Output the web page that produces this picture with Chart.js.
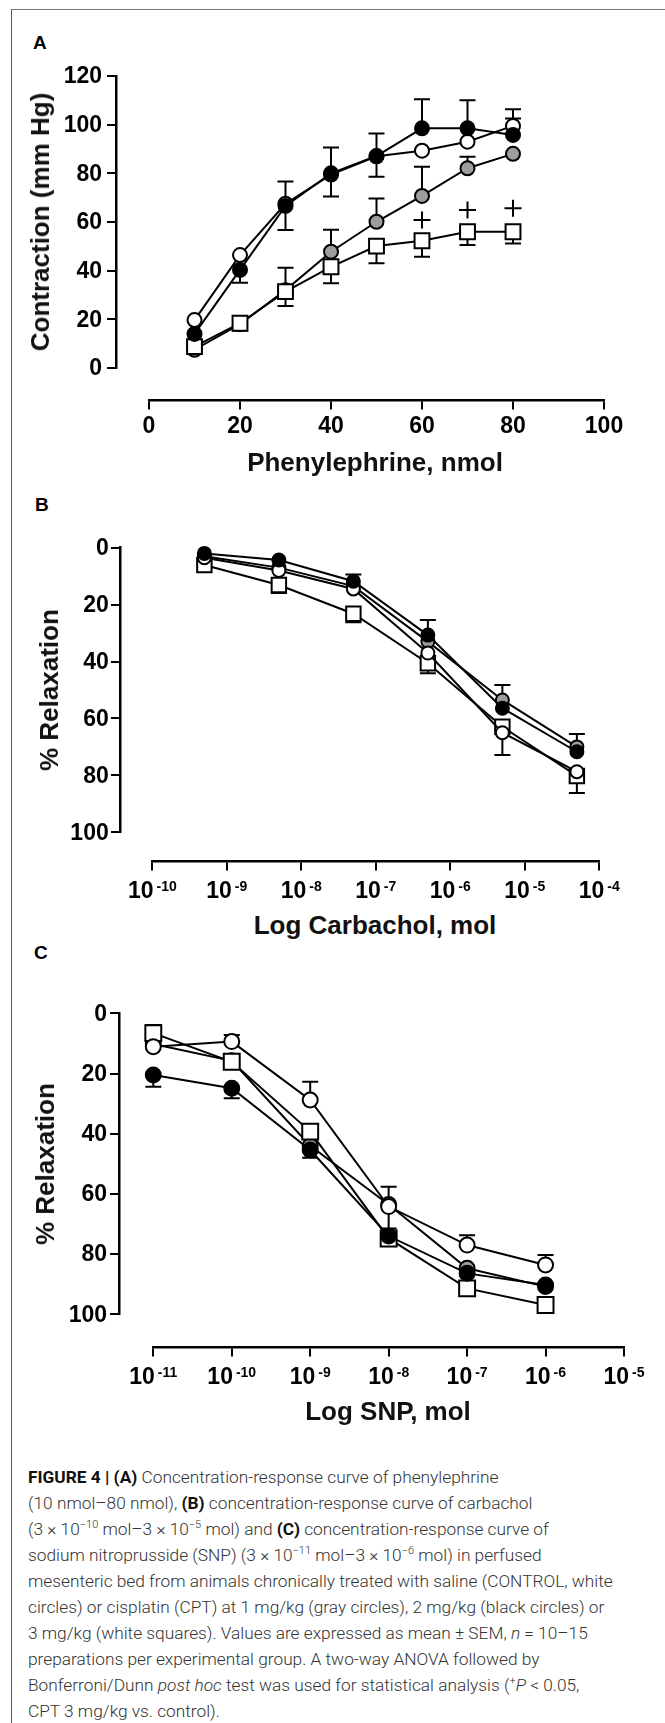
<!DOCTYPE html>
<html>
<head>
<meta charset="utf-8">
<script src="https://cdn.jsdelivr.net/npm/chart.js@4.4.1/dist/chart.umd.min.js"></script>
<style>
  html, body { margin: 0; padding: 0; background: #fff; }
  body { width: 665px; height: 1723px; position: relative; overflow: hidden; font-family: 'Liberation Sans', Arial, sans-serif; }
  .frame { position: absolute; left: 11px; top: 9px; width: 720px; height: 1800px; border-left: 1px solid #555; border-top: 1px solid #777; }
  .box { position: absolute; left: 0; width: 665px; }
  .letter { position: absolute; font: bold 19px 'Liberation Sans', Arial, sans-serif; line-height: 19px; color: #000; }
  .xt { position: absolute; font: bold 26px 'Liberation Sans', Arial, sans-serif; line-height: 26px; transform: translateX(-50%); white-space: nowrap; color: #111; }
  .yt { position: absolute; font: bold 26px 'Liberation Sans', Arial, sans-serif; line-height: 26px; transform: translate(-50%, -50%) rotate(-90deg); white-space: nowrap; color: #111; }
  .cap { position: absolute; left: 28px; font-family: Roboto, 'Liberation Sans', sans-serif; font-weight: 300; font-size: 17.3px; line-height: 25.9px; color: #333; white-space: nowrap; }
  .cap b { color: #111; font-weight: 700; }
  .cap sup { font-size: 11px; line-height: 0; vertical-align: 7px; }
</style>
</head>
<body>
<div class="frame"></div>

<div class="letter" style="left:33px;top:32.5px">A</div>
<div class="letter" style="left:35px;top:494.5px">B</div>
<div class="letter" style="left:34px;top:942.5px">C</div>

<div class="box" style="top:40px;height:410px"><canvas id="chartA"></canvas></div>
<div class="box" style="top:515px;height:390px"><canvas id="chartB"></canvas></div>
<div class="box" style="top:980px;height:420px"><canvas id="chartC"></canvas></div>

<div class="yt" style="left:40px;top:222px">Contraction (mm Hg)</div>
<div class="xt" style="left:375px;top:449.3px">Phenylephrine, nmol</div>
<div class="yt" style="left:49px;top:690px">% Relaxation</div>
<div class="xt" style="left:375px;top:911.6px">Log Carbachol, mol</div>
<div class="yt" style="left:44.5px;top:1164px">% Relaxation</div>
<div class="xt" style="left:388px;top:1398.3px">Log SNP, mol</div>

<div class="cap" style="top:1465.4px"><b>FIGURE 4 |</b> <b>(A)</b> Concentration-response curve of phenylephrine</div>
<div class="cap" style="top:1491.3px">(10 nmol–80 nmol), <b>(B)</b> concentration-response curve of carbachol</div>
<div class="cap" style="top:1517.2px">(3 × 10<sup>−10</sup> mol–3 × 10<sup>−5</sup> mol) and <b>(C)</b> concentration-response curve of</div>
<div class="cap" style="top:1543.1px">sodium nitroprusside (SNP) (3 × 10<sup>−11</sup> mol–3 × 10<sup>−6</sup> mol) in perfused</div>
<div class="cap" style="top:1569px">mesenteric bed from animals chronically treated with saline (CONTROL, white</div>
<div class="cap" style="top:1594.9px">circles) or cisplatin (CPT) at 1 mg/kg (gray circles), 2 mg/kg (black circles) or</div>
<div class="cap" style="top:1620.8px">3 mg/kg (white squares). Values are expressed as mean ± SEM, <i>n</i> = 10–15</div>
<div class="cap" style="top:1646.7px">preparations per experimental group. A two-way ANOVA followed by</div>
<div class="cap" style="top:1672.6px">Bonferroni/Dunn <i>post hoc</i> test was used for statistical analysis (<sup>+</sup><i>P</i> &lt; 0.05,</div>
<div class="cap" style="top:1698.5px">CPT 3 mg/kg vs. control).</div>

<script>
// Figure 4 — cisplatin / mesenteric bed curves, three panels

Chart.defaults.font.family = "'Liberation Sans', Arial, sans-serif";
Chart.defaults.color = '#000';

// ── Panel A: phenylephrine (contraction, mm Hg) ─────────────────
const phenylDose = [10, 20, 30, 40, 50, 60, 70, 80];
const aControl = [19.7, 46.4, 67.5, 79.5, 87, 89.3, 93, 99.5];
const aCpt1    = [7.5, 18, 32, 47.8, 60.1, 70.7, 82.1, 88];
const aCpt2    = [14, 40.3, 66.6, 80, 87.1, 98.5, 98.5, 95.8];
const aCpt3    = [8.8, 18.4, 31.4, 41.6, 50.1, 52.3, 56, 56];
// SEM drawn above (+) / below (-) the mean
const aControlPlus = [0, 0, 0, 0, 0, 0, 0, 3];
const aCpt1Plus    = [0, 0, 9.2, 9, 9.6, 12, 4.7, 0];
const aCpt2Plus    = [0, 0, 10, 10.6, 9.3, 11.9, 11.5, 10.5];
const aCpt2Minus   = [0, 5.3, 9.9, 9.5, 8.5, 0, 0, 0];
const aCpt3Minus   = [0, 3, 5.9, 6.8, 7.1, 6.6, 5.5, 4.8];
const plusDose = [60, 70, 80];
const plusMark = [60.8, 64.9, 65.6];
const aTicksX = [0, 20, 40, 60, 80, 100];
const aTicksY = [0, 20, 40, 60, 80, 100, 120];

// ── Panel B: carbachol (% relaxation) ───────────────────────────
const carbDose = [5e-10, 5e-9, 5e-8, 5e-7, 5e-6, 5e-5];
const bControl = [3.5, 8, 14.5, 37, 65, 78.7];
const bCpt1    = [3, 7, 13.5, 33, 53.5, 70];
const bCpt2    = [2, 4.3, 11.8, 30.7, 56.4, 71.7];
const bCpt3    = [6.1, 13.1, 23.2, 40.6, 62.9, 80.2];
const bControlPlus = [0, 0, 0, 0, 7.8, 0];
const bCpt1Minus   = [0, 0, 0, 0, 5.3, 4.5];
const bCpt2Minus   = [0, 0, 2.4, 5.3, 0, 0];
const bCpt3Plus    = [0, 2.8, 3, 3.5, 0, 6];
const carbExps = [-10, -9, -8, -7, -6, -5, -4];

// ── Panel C: sodium nitroprusside (% relaxation) ────────────────
const snpDose = [1e-11, 1e-10, 1e-9, 1e-8, 1e-7, 1e-6];
const cControl = [11.1, 9.4, 28.8, 64.2, 77, 83.6];
const cCpt1    = [10.2, 15.8, 44, 63.5, 84.7, 90.8];
const cCpt2    = [20.5, 24.9, 45.4, 74, 86.4, 90.3];
const cCpt3    = [6.6, 16.1, 39.3, 74.8, 91.4, 96.9];
const cControlMinus = [0, 2.2, 6.1, 6.6, 3.3, 3.3];
const cCpt1Plus     = [0, 0, 0, 8, 0, 0];
const cCpt2Plus     = [3.9, 3.3, 2.6, 0, 0, 0];
const cCpt3Minus    = [2.7, 0, 0, 0, 0, 0];
const cCpt3Plus     = [0, 0, 0, 1.5, 1.5, 0];
const snpExps = [-11, -10, -9, -8, -7, -6, -5];
const relaxTicks = [0, 20, 40, 60, 80, 100];

const ZERO = n => new Array(n).fill(0);
const BOLD23 = "bold 23px 'Liberation Sans', Arial, sans-serif";
const BOLD14 = "bold 14px 'Liberation Sans', Arial, sans-serif";

// marker looks: white circle = control, gray = 1 mg/kg, black = 2 mg/kg, white square = 3 mg/kg
const LOOK = {
  control: { shape: 'circle', fill: '#ffffff', order: 1 },
  cpt1:    { shape: 'circle', fill: '#9d9d9d', order: 3 },
  cpt2:    { shape: 'circle', fill: '#000000', order: 0 },
  cpt3:    { shape: 'rect',   fill: '#ffffff', order: 2 }
};

function series(label, xs, ys, plus, minus, look, r) {
  return {
    label,
    data: xs.map((x, i) => ({ x, y: ys[i] })),
    errPlus: plus || ZERO(xs.length),
    errMinus: minus || ZERO(xs.length),
    showLine: true,
    borderColor: '#000',
    borderWidth: 2,
    pointStyle: look.shape,
    pointRadius: look.shape === 'rect' ? r * 1.5 : r,
    pointBackgroundColor: look.fill,
    pointBorderColor: '#000',
    pointBorderWidth: 2,
    order: look.order,
    clip: false
  };
}

// SEM whiskers with caps, drawn under the symbols
const errorBars = {
  id: 'errorBars',
  beforeDatasetsDraw(chart) {
    const { ctx, scales: { x, y } } = chart;
    ctx.save();
    ctx.strokeStyle = '#000';
    ctx.lineWidth = 2;
    chart.data.datasets.forEach(ds => {
      if (!ds.errPlus) return;
      ds.data.forEach((p, i) => {
        const px = x.getPixelForValue(p.x);
        const y0 = y.getPixelForValue(p.y);
        [ds.errPlus[i], -ds.errMinus[i]].forEach(e => {
          if (!e) return;
          const y1 = y.getPixelForValue(p.y + e);
          ctx.beginPath();
          ctx.moveTo(px, y0); ctx.lineTo(px, y1);
          ctx.moveTo(px - 8, y1); ctx.lineTo(px + 8, y1);
          ctx.stroke();
        });
      });
    });
    ctx.restore();
  }
};

// tick labels for the detached axes: y numbers left of the tick marks,
// and "10" with a raised exponent under each decade on log x axes
const axisLabels = {
  id: 'axisLabels',
  afterDraw(chart, args, opts) {
    const { ctx } = chart;
    const sx = chart.scales.x, sy = chart.scales.y;
    ctx.save();
    ctx.fillStyle = '#000';

    const axisX = sx.getPixelForValue(chart.options.scales.y.position.x);
    ctx.font = BOLD23;
    ctx.textAlign = 'right';
    ctx.textBaseline = 'middle';
    sy.ticks.forEach(t => {
      ctx.fillText(String(t.value), axisX - 8 - opts.yPad, sy.getPixelForValue(t.value) + 1);
    });

    if (opts.exps) {
      const base = sy.getPixelForValue(chart.options.scales.x.position.y) + 36;
      ctx.textAlign = 'left';
      ctx.textBaseline = 'alphabetic';
      opts.exps.forEach(e => {
        const px = sx.getPixelForValue(Math.pow(10, e));
        ctx.font = BOLD23;
        const w1 = ctx.measureText('10').width;
        ctx.font = BOLD14;
        const w2 = ctx.measureText(String(e)).width;
        const left = px - (w1 + 3 + w2) / 2;
        ctx.font = BOLD23;
        ctx.fillText('10', left, base);
        ctx.font = BOLD14;
        ctx.fillText(String(e), left + w1 + 3, base - 6.5);
      });
    }
    ctx.restore();
  }
};

const GRID = { display: true, drawOnChartArea: false, drawTicks: true, tickLength: 8, color: '#000', lineWidth: 2 };
const BORDER = { display: true, color: '#000', width: 2.5 };
const TICKFONT = { size: 23, weight: 'bold' };

function baseOptions(padding, scales, labels) {
  return {
    responsive: true,
    maintainAspectRatio: false,
    animation: false,
    layout: { padding },
    plugins: { legend: { display: false }, tooltip: { enabled: false }, axisLabels: labels },
    scales
  };
}

// ── Panel A ─────────────────────────────────────────────────────
new Chart(document.getElementById('chartA'), {
  type: 'scatter',
  data: {
    datasets: [
      series('CPT 2 mg/kg', phenylDose, aCpt2, aCpt2Plus, aCpt2Minus, LOOK.cpt2, 7),
      series('CONTROL', phenylDose, aControl, aControlPlus, null, LOOK.control, 7),
      series('CPT 1 mg/kg', phenylDose, aCpt1, aCpt1Plus, null, LOOK.cpt1, 7),
      series('CPT 3 mg/kg', phenylDose, aCpt3, null, aCpt3Minus, LOOK.cpt3, 7),
      {
        label: '+P < 0.05',
        data: plusDose.map((x, i) => ({ x, y: plusMark[i] })),
        showLine: false,
        pointStyle: 'cross',
        pointRadius: 8.5,
        pointBorderColor: '#000',
        pointBorderWidth: 2,
        order: 0,
        clip: false
      }
    ]
  },
  options: baseOptions({ left: 149, right: 61, top: 36, bottom: 82 }, {
    x: {
      type: 'linear', axis: 'x', min: 0, max: 100, position: { y: -13.15 },
      afterBuildTicks: s => { s.ticks = aTicksX.map(v => ({ value: v })); },
      ticks: { font: TICKFONT, padding: 5, maxRotation: 0, autoSkip: false },
      grid: GRID, border: BORDER
    },
    y: {
      type: 'linear', axis: 'y', min: 0, max: 120, position: { x: -7.25 },
      afterBuildTicks: s => { s.ticks = aTicksY.map(v => ({ value: v })); },
      ticks: { display: false },
      grid: GRID, border: BORDER
    }
  }, { yPad: 6 }),
  plugins: [errorBars, axisLabels]
});

// ── Panel B ─────────────────────────────────────────────────────
new Chart(document.getElementById('chartB'), {
  type: 'scatter',
  data: {
    datasets: [
      series('CPT 2 mg/kg', carbDose, bCpt2, null, bCpt2Minus, LOOK.cpt2, 6.5),
      series('CONTROL', carbDose, bControl, bControlPlus, null, LOOK.control, 6.5),
      series('CPT 1 mg/kg', carbDose, bCpt1, null, bCpt1Minus, LOOK.cpt1, 6.5),
      series('CPT 3 mg/kg', carbDose, bCpt3, bCpt3Plus, null, LOOK.cpt3, 6.8)
    ]
  },
  options: baseOptions({ left: 152.3, right: 65.7, top: 32.7, bottom: 72.7 }, {
    x: {
      type: 'logarithmic', axis: 'x', min: 1e-10, max: 1e-4, position: { y: 110.33 },
      afterBuildTicks: s => { s.ticks = carbExps.map(e => ({ value: Math.pow(10, e) })); },
      ticks: { display: false },
      grid: GRID, border: BORDER
    },
    y: {
      type: 'linear', axis: 'y', min: 0, max: 100, reverse: true, position: { x: Math.pow(10, -10.424) },
      afterBuildTicks: s => { s.ticks = relaxTicks.map(v => ({ value: v })); },
      ticks: { display: false },
      grid: GRID, border: BORDER
    }
  }, { yPad: 4, exps: carbExps }),
  plugins: [errorBars, axisLabels]
});

// ── Panel C ─────────────────────────────────────────────────────
new Chart(document.getElementById('chartC'), {
  type: 'scatter',
  data: {
    datasets: [
      series('CPT 2 mg/kg', snpDose, cCpt2, cCpt2Plus, null, LOOK.cpt2, 7.5),
      series('CONTROL', snpDose, cControl, null, cControlMinus, LOOK.control, 7.5),
      series('CPT 1 mg/kg', snpDose, cCpt1, cCpt1Plus, null, LOOK.cpt1, 7.5),
      series('CPT 3 mg/kg', snpDose, cCpt3, cCpt3Plus, cCpt3Minus, LOOK.cpt3, 7.5)
    ]
  },
  options: baseOptions({ left: 153.3, right: 41, top: 33.3, bottom: 85.7 }, {
    x: {
      type: 'logarithmic', axis: 'x', min: 1e-11, max: 1e-5, position: { y: 111.1 },
      afterBuildTicks: s => { s.ticks = snpExps.map(e => ({ value: Math.pow(10, e) })); },
      ticks: { display: false },
      grid: GRID, border: BORDER
    },
    y: {
      type: 'linear', axis: 'y', min: 0, max: 100, reverse: true, position: { x: Math.pow(10, -11.437) },
      afterBuildTicks: s => { s.ticks = relaxTicks.map(v => ({ value: v })); },
      ticks: { display: false },
      grid: GRID, border: BORDER
    }
  }, { yPad: 4, exps: snpExps }),
  plugins: [errorBars, axisLabels]
});
</script>
</body>
</html>
